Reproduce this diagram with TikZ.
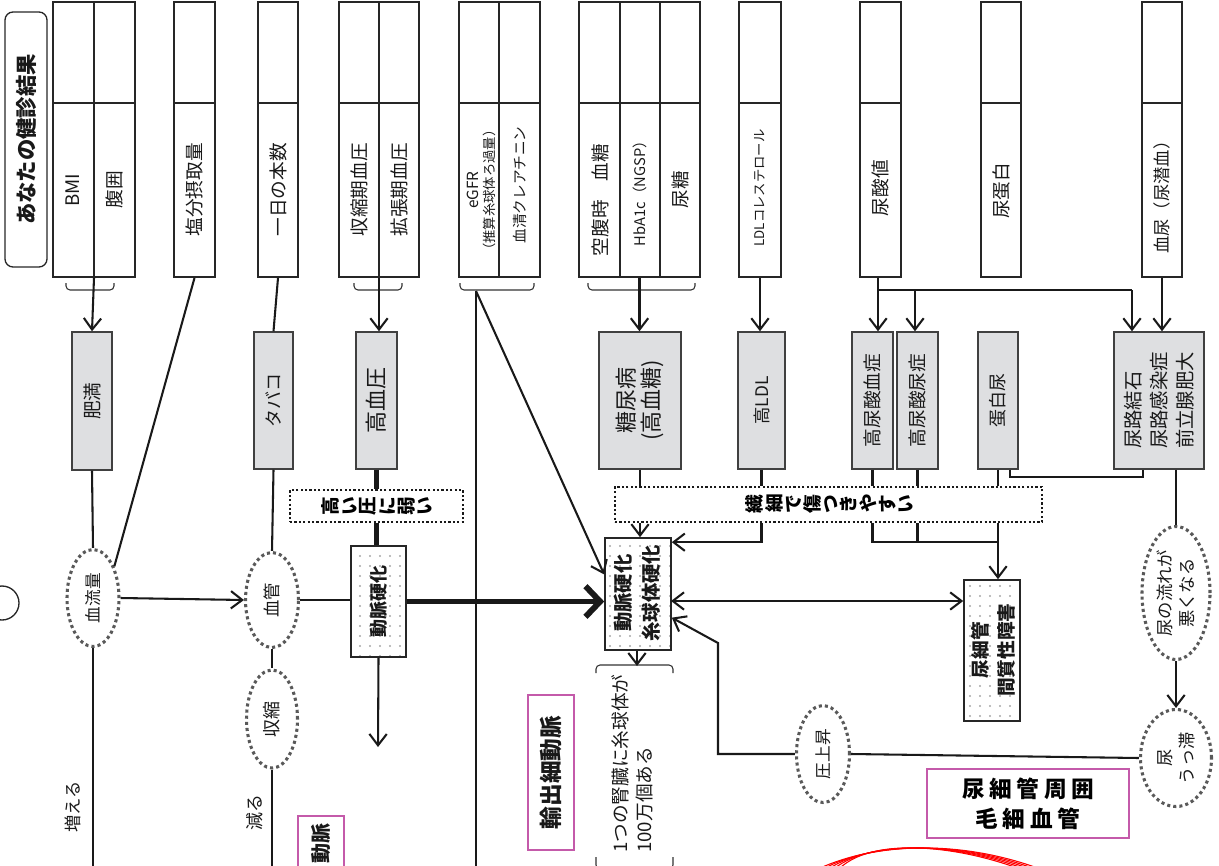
\documentclass[tikz,border=0pt]{standalone}
\usepackage{fontspec}
\setmainfont{Noto Sans CJK JP}
\usepackage{graphicx}
\usetikzlibrary{arrows.meta,fit,shapes.geometric,patterns.meta,calc}
\definecolor{pinkb}{RGB}{196,90,170}
\definecolor{gfill}{RGB}{222,223,225}
\newcommand\fsz[2]{\fontsize{#1pt}{#2pt}\selectfont}
\newcommand\rch[1]{\rotatebox[origin=c]{90}{#1}}
\tikzset{
 hdr/.style={draw=black!85, line width=1.4pt, inner sep=0pt},
 cell/.style={draw=black!85, line width=1.4pt},
 gbox/.style={draw=black!75, fill=gfill, line width=1.1pt, inner sep=0pt},
 dbox/.style={draw=black!85, line width=1.2pt, inner sep=0pt, pattern={Dots[distance=7.5pt,radius=0.85pt]}, pattern color=black!35},
 pbox/.style={draw=pinkb, line width=1.2pt, inner sep=0pt},
 dotbox/.style={draw=black!90, line width=1.6pt, dash pattern=on 1.6pt off 1.7pt, inner sep=0pt},
 dell/.style={ellipse, draw=black!65, line width=2.3pt, dash pattern=on 2.3pt off 2.3pt, inner sep=0pt},
 rt/.style={rotate=90, inner sep=0pt, align=center, text=black!90},
 conn/.style={line width=1.55pt, draw=black!90},
 tip/.tip={Straight Barb[length=8.5pt,width=13pt]},
 arr/.style={conn, -tip},
 arrb/.style={conn, tip-tip},
 bigarr/.style={line width=4.4pt, draw=black!90, -{Straight Barb[length=11pt,width=23pt]}},
 thk/.style={line width=4.4pt, draw=black!90},
 brc/.style={line width=0.8pt, draw=black!80, rounded corners=3pt},
}
\begin{document}
\begin{tikzpicture}[x=0.75pt,y=-0.75pt]
\useasboundingbox (0,0) rectangle (1219,866);
\clip (0,0) rectangle (1219,866);

% ---------- title ----------
\node[draw=black!85, line width=1pt, rounded corners=6pt, inner sep=0pt, fit={(5,12)(47,267)}] (title) {};
\node[rt, font=\fsz{16}{18}\bfseries] at (title) {あなたの健診結果};
\draw[line width=1pt, black!85] (2,603) circle (17);

% ---------- header boxes ----------
\node[hdr, fit={(53,2)(135,277)}] (h1) {};
\draw[cell] (53,103) -- (135,103) (94,2) -- (94,277);
\node[rt, font=\fsz{14}{17}] at (73,190) {BMI};
\node[rt, font=\fsz{14}{17}] at (114,190) {腹囲};

\node[hdr, fit={(174,2)(215,277)}] (h2) {};
\draw[cell] (174,103) -- (215,103);
\node[rt, font=\fsz{14}{17}] at (194,190) {塩分摂取量};

\node[hdr, fit={(258,2)(298,277)}] (h3) {};
\draw[cell] (258,103) -- (298,103);
\node[rt, font=\fsz{14}{17}] at (278,190) {一日の本数};

\node[hdr, fit={(339,2)(419,277)}] (h4) {};
\draw[cell] (339,103) -- (419,103) (379,2) -- (379,277);
\node[rt, font=\fsz{14}{17}] at (359,190) {収縮期血圧};
\node[rt, font=\fsz{14}{17}] at (399,190) {拡張期血圧};

\node[hdr, fit={(459,2)(540,277)}] (h5) {};
\draw[cell] (459,103) -- (540,103) (499,2) -- (499,277);
\node[rt] at (481,190) {\fsz{11.5}{13.5}eGFR\\\fsz{10}{13.5}（推算糸球体ろ過量）};
\node[rt, font=\fsz{11}{13}] at (520,185) {血清クレアチニン};

\node[hdr, fit={(579,2)(700,277)}] (h6) {};
\draw[cell] (579,103) -- (700,103) (620,2) -- (620,277) (660,2) -- (660,277);
\node[rt, font=\fsz{14}{17}] at (600,200) {空腹時　血糖};
\node[rt, font=\fsz{11}{13}] at (640,190) {HbA1c（NGSP）};
\node[rt, font=\fsz{14}{17}] at (680,190) {尿糖};

\node[hdr, fit={(739,2)(781,277)}] (h7) {};
\draw[cell] (739,103) -- (781,103);
\node[rt, font=\fsz{10}{12}] at (760,188) {LDLコレステロール};

\node[hdr, fit={(860,2)(901,277)}] (h8) {};
\draw[cell] (860,103) -- (901,103);
\node[rt, font=\fsz{14}{17}] at (880,188) {尿酸値};

\node[hdr, fit={(981,2)(1021,277)}] (h9) {};
\draw[cell] (981,103) -- (1021,103);
\node[rt, font=\fsz{14}{17}] at (1001,191) {尿蛋白};

\node[hdr, fit={(1142,2)(1182,277)}] (h10) {};
\draw[cell] (1142,103) -- (1182,103);
\node[rt, font=\fsz{13}{16}] at (1162,193) {血尿（尿潜血）};

% braces under header boxes
\draw[brc] (66,283) -- (66,290) -- (114,290) -- (114,283);
\draw[brc] (354,283) -- (354,290) -- (402,290) -- (402,283);
\draw[brc] (460,283) -- (460,290) -- (534,290) -- (534,283);
\draw[brc] (588,283) -- (588,290) -- (695,290) -- (695,283);

% ---------- gray boxes ----------
\node[gbox, fit={(72,332)(112,470)}] (fat) {};
\node[rt, font=\fsz{14}{17}] at (fat) {肥満};
\node[gbox, fit={(254,332)(293,469)}] (tob) {};
\node[rt, font=\fsz{13.5}{16}] at (tob) {タバコ};
\node[gbox, fit={(356,332)(397,469)}] (hbp) {};
\node[rt, font=\fsz{16.5}{19}] at (hbp) {高血圧};
\node[gbox, fit={(599,332)(681,469)}] (dm) {};
\node[rt, font=\fsz{16.5}{19}] at (dm) {糖尿病\\(高血糖)};
\node[gbox, fit={(738,332)(785,469)}] (ldl) {};
\node[rt, font=\fsz{13}{16}] at (ldl) {高LDL};
\node[gbox, fit={(852,332)(893,469)}] (hua) {};
\node[rt, font=\fsz{14}{17}] at (hua) {高尿酸血症};
\node[gbox, fit={(897,332)(938,469)}] (huu) {};
\node[rt, font=\fsz{14}{17}] at (huu) {高尿酸尿症};
\node[gbox, fit={(978,332)(1018,469)}] (prt) {};
\node[rt, font=\fsz{13.5}{16}] at (prt) {蛋白尿};
\node[gbox, fit={(1114,332)(1204,469)}] (uro) {};
\node[rt, align=left, font=\fsz{14.5}{19.5}] at (uro) {尿路結石\\尿路感染症\\前立腺肥大};

% ---------- dotted label boxes ----------
\node[dotbox, fit={(290,490)(463,522)}] (hp) {};
\node[font=\fsz{14}{16}\bfseries, inner sep=0pt] at (377,506)
 {\rch{高}\hspace{2.2pt}\rch{い}\hspace{2.2pt}\rch{圧}\hspace{2.2pt}\rch{に}\hspace{2.2pt}\rch{弱}\hspace{2.2pt}\rch{い}};
\node[dotbox, fit={(615,487)(1042,522)}] (fr) {};
\node[font=\fsz{14}{16}\bfseries, inner sep=0pt] at (829,504)
 {\rch{繊}\hspace{2pt}\rch{細}\hspace{2pt}\rch{で}\hspace{2pt}\rch{傷}\hspace{2pt}\rch{つ}\hspace{2pt}\rch{き}\hspace{2pt}\rch{や}\hspace{2pt}\rch{す}\hspace{2pt}\rch{い}};

% ---------- dotted-pattern boxes ----------
\node[dbox, fit={(351,546)(406,657)}] (as1) {};
\node[rt, font=\fsz{13.5}{16}\bfseries] at (as1) {動脈硬化};
\node[dbox, fit={(605,538)(671,650)}] (as2) {};
\node[rt, font=\fsz{14.5}{21}\bfseries] at (637,593) {動脈硬化\\糸球体硬化};
\node[dbox, fit={(964,580)(1020,721)}] (tub) {};
\node[rt, font=\fsz{14}{19.5}\bfseries] at (993,650) {尿細管\\間質性障害};

% ---------- dotted ellipses ----------
\node[dell, minimum width=39pt, minimum height=72.75pt] (bf) at (93,598) {};
\node[rt, font=\fsz{12.5}{15}] at (bf) {血流量};
\node[dell, minimum width=39.75pt, minimum height=71.25pt] (bv) at (272,600) {};
\node[rt, font=\fsz{13}{15}] at (bv) {血管};
\node[dell, minimum width=38.25pt, minimum height=73.5pt] (sh) at (272,719) {};
\node[rt, font=\fsz{13.5}{16}] at (sh) {収縮};
\node[dell, minimum width=39.75pt, minimum height=72.75pt] (pr) at (823,754) {};
\node[rt, font=\fsz{12.5}{15}] at (pr) {圧上昇};
\node[dell, minimum width=51pt, minimum height=99.75pt] (uf) at (1176,593) {};
\node[rt, font=\fsz{13}{16.5}] at (uf) {尿の流れが\\悪くなる};
\node[dell, minimum width=53.25pt, minimum height=72.75pt] (us) at (1176,758) {};
\node[rt, font=\fsz{13}{16.5}] at (us) {尿\\うっ滞};

% ---------- pink boxes ----------
\node[pbox, fit={(528,695)(574,850)}] (out) {};
\node[rt, font=\fsz{17}{20}\bfseries] at (out) {輸出細動脈};
\node[pbox, fit={(298,816)(344,900)}] (inn) {};
\node[rt, anchor=east, font=\fsz{15}{18}\bfseries] at (321,823) {動脈};
\node[pbox, fit={(927,769)(1129,838)}] (ms) {};
\node[align=center, inner sep=0pt, font=\fsz{17}{22.5}\bfseries] at (ms)
 {尿\kern3.5pt細\kern3.5pt管\kern3.5pt周\kern3.5pt囲\\毛\kern3.5pt細\kern3.5pt血\kern3.5pt管};

% ---------- free texts ----------
\node[rt, font=\fsz{13}{16}] (inc) at (73,807) {増える};
\node[rt, font=\fsz{13.5}{16}] (dec) at (255,812) {減る};
\node[rt, anchor=west, align=left, font=\fsz{14}{18}] (note) at (632,853) {1つの腎臓に糸球体が\\100万個ある};
\draw[brc] (596,673) -- (596,665) -- (673,665) -- (673,673);
\draw[brc] (596,857) -- (596,869) -- (673,869) -- (673,857);

% ---------- coordinates ----------
\coordinate (bfend) at (93,870);
\coordinate (shend) at (272,870);
\coordinate (as1end) at (378,747);
\coordinate (egb) at (476,291);
\coordinate (vend) at (476,870);
\coordinate (ua) at (878,290);
\coordinate (uc) at (915,290);
\coordinate (ub) at (1132,290);
\coordinate (fj) at (998,542);
\coordinate (pk) at (718,643);
\coordinate (da) at (671,601);
\coordinate (nb) at (637,666);

% ---------- connectors ----------
\draw[arr] (h1.south) -- (fat.north);
\draw[conn] (fat.south) -- (bf.north);
\draw[conn] (h2.south) -- (bf.56);
\draw[arr] (bf.east) -- (bv.west);
\draw[conn] (bf.south) -- (bfend);
\draw[conn] (h3.south) -- (tob.north);
\draw[conn] (tob.south) -- (bv.north);
\draw[conn] (bv.east) -- (bv.east -| as1.west);
\draw[conn] (bv.south) -- (sh.north);
\draw[conn] (sh.south) -- (shend);
\draw[arr] (h4.south) -- (h4.south |- hbp.north);
\draw[thk] (hbp.south) -- (hbp.south |- hp.north);
\draw[thk] (hbp.south |- hp.south) -- (hbp.south |- as1.north);
\draw[bigarr] (as1.east) -- (as1.east -| as2.west);
\draw[arr] (as1.south) -- (as1end);
\draw[conn] (egb) -- (vend);
\draw[arr] (egb) -- (as2.150);
\draw[arr] (h6.south) -- (h6.south |- dm.north);
\draw[arr] (h7.south) -- (h7.south |- ldl.north);
\draw[arr] (h8.south -| ua) -- (ua |- hua.north);
\draw[conn] (ua) -- (ub);
\draw[arr] (uc) -- (uc |- huu.north);
\draw[arr] (ub) -- (ub |- uro.north);
\draw[arr] (h10.south) -- (h10.south |- uro.north);
\draw[conn] (dm.south) -- (dm.south |- fr.north);
\draw[conn] (ldl.south) -- (ldl.south |- fr.north);
\draw[conn] (hua.south) -- (hua.south |- fr.north);
\draw[conn] (huu.south) -- (huu.south |- fr.north);
\draw[conn] (prt.south) -- (prt.south |- fr.north);
\draw[conn] ($(prt.south)+(12,0)$) -- ($(prt.south)+(12,7)$) -- ($(uro.south)+(-16,7)$) -- ($(uro.south)+(-16,0)$);
\draw[arr] (dm.south |- fr.south) -- (dm.south |- as2.north);
\draw[arr] (ldl.south |- fr.south) |- ($(as2.north east)+(0,5)$);
\draw[conn] (hua.south |- fr.south) |- (fj);
\draw[conn] (huu.south |- fr.south) -- (huu.south |- fj);
\draw[arr] (prt.south |- fr.south) -- (prt.south |- tub.north);
\draw[arrb] (da) -- (da -| tub.west);
\draw[arr] (as2.south -| nb) -- (nb);
\draw[conn] (uf.north |- uro.south) -- (uf.north);
\draw[arr] (uf.south) -- (us.north);
\draw[conn] (us.west) -- (pr.east);
\draw[arr] (pr.west) -| (pk) -- (as2.-35);

% ---------- red curves ----------
\foreach \i in {0,...,4}{
  \draw[red, line width=0.8pt] ({812+6*\i},872) .. controls (868,{843-2*\i}) and (960,{837+2*\i}) .. ({1048-5*\i},872);
}
\end{tikzpicture}
\end{document}
